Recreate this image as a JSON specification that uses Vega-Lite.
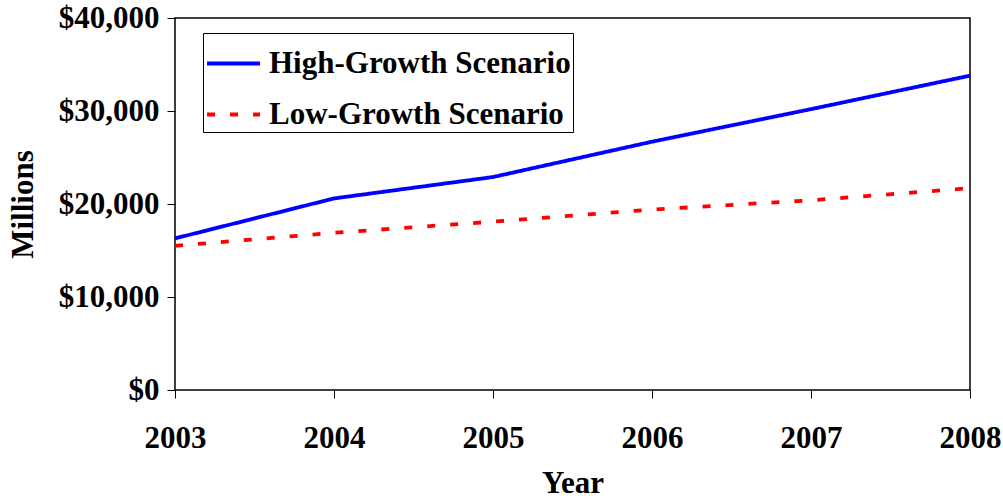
{
  "$schema": "https://vega.github.io/schema/vega-lite/v6.json",
  "width": 795,
  "height": 372,
  "autosize": {"type": "none"},
  "padding": {"left": 175, "top": 18, "right": 33, "bottom": 111},
  "background": "white",
  "config": {
    "font": "Liberation Serif",
    "view": {"stroke": "black", "strokeWidth": 1.5},
    "axis": {"grid": false, "domain": false, "labelFont": "Liberation Serif", "titleFont": "Liberation Serif", "labelFontWeight": "bold", "titleFontWeight": "bold", "labelColor": "black", "titleColor": "black", "tickColor": "black", "labelFontSize": 31, "titleFontSize": 31}
  },
  "data": {
    "values": [
      {"Year": 2003, "Value": 16300, "Scenario": "High-Growth Scenario"},
      {"Year": 2004, "Value": 20600, "Scenario": "High-Growth Scenario"},
      {"Year": 2005, "Value": 22900, "Scenario": "High-Growth Scenario"},
      {"Year": 2006, "Value": 26700, "Scenario": "High-Growth Scenario"},
      {"Year": 2007, "Value": 30200, "Scenario": "High-Growth Scenario"},
      {"Year": 2008, "Value": 33800, "Scenario": "High-Growth Scenario"},
      {"Year": 2003, "Value": 15500, "Scenario": "Low-Growth Scenario"},
      {"Year": 2004, "Value": 16900, "Scenario": "Low-Growth Scenario"},
      {"Year": 2005, "Value": 18100, "Scenario": "Low-Growth Scenario"},
      {"Year": 2006, "Value": 19400, "Scenario": "Low-Growth Scenario"},
      {"Year": 2007, "Value": 20400, "Scenario": "Low-Growth Scenario"},
      {"Year": 2008, "Value": 21700, "Scenario": "Low-Growth Scenario"}
    ]
  },
  "mark": {"type": "line", "strokeWidth": 3.8},
  "encoding": {
    "x": {
      "field": "Year", "type": "quantitative",
      "scale": {"domain": [2003, 2008], "nice": false, "zero": false},
      "axis": {"values": [2003, 2004, 2005, 2006, 2007, 2008], "format": "d", "title": "Year", "tickSize": 8, "labelPadding": 25, "titlePadding": 15, "labelOverlap": false, "labelBound": false, "labelFlush": false}
    },
    "y": {
      "field": "Value", "type": "quantitative",
      "scale": {"domain": [0, 40000], "nice": false},
      "axis": {"values": [0, 10000, 20000, 30000, 40000], "format": "$,d", "title": "Millions", "tickSize": 8, "labelPadding": 8, "titlePadding": 19}
    },
    "color": {
      "field": "Scenario", "type": "nominal",
      "scale": {"domain": ["High-Growth Scenario", "Low-Growth Scenario"], "range": ["#0000FF", "#FF0000"]},
      "legend": {"orient": "none", "legendX": 28, "legendY": 15, "title": null, "strokeColor": "black", "fillColor": "white", "padding": 2, "symbolType": "stroke", "symbolSize": 2800, "symbolStrokeWidth": 3.8, "labelFontSize": 31, "labelFont": "Liberation Serif", "labelFontWeight": "bold", "labelColor": "black", "labelLimit": 0, "rowPadding": 7, "labelOffset": 7}
    },
    "strokeDash": {
      "field": "Scenario", "type": "nominal",
      "scale": {"domain": ["High-Growth Scenario", "Low-Growth Scenario"], "range": [[1, 0], [8, 15]]},
      "legend": null
    }
  }
}
